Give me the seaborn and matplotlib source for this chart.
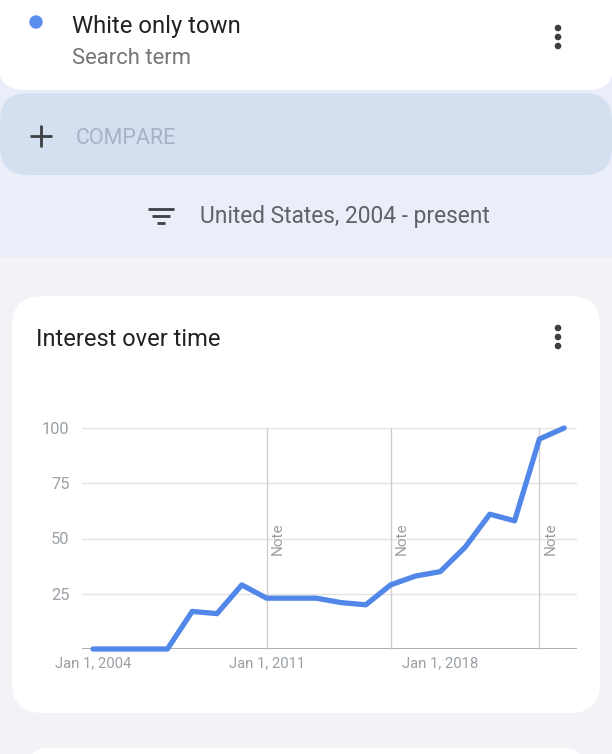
import matplotlib
matplotlib.use("Agg")
import matplotlib.pyplot as plt
from matplotlib.patches import FancyBboxPatch, Rectangle, Circle
import seaborn as sns
import pandas as pd

# ---- data ----
years = [2004, 2005, 2006, 2007, 2008, 2009, 2010, 2011, 2012, 2013,
         2014, 2015, 2016, 2017, 2018, 2019, 2020, 2021, 2022, 2023]
interest = [0, 0, 0, 0, 17, 16, 29, 23, 23, 23,
            21, 20, 29, 33, 35, 46, 61, 58, 95, 100]
note_years = [2011, 2016, 2022]
x_tick_years = [2004, 2011, 2018]
x_tick_labels = ["Jan 1, 2004", "Jan 1, 2011", "Jan 1, 2018"]
y_ticks = [25, 50, 75, 100]
search_term = "White only town"
subtitle = "Search term"
region_text = "United States, 2004 - present"
card_title = "Interest over time"

df = pd.DataFrame({"year": years, "interest": interest})

sns.set_theme(style="white")
plt.rcParams["font.family"] = ["Roboto", "DejaVu Sans"]

W, H = 612, 754
fig = plt.figure(figsize=(W / 100, H / 100), dpi=100)

# ---- background UI layer (pixel coordinates) ----
bg = fig.add_axes([0, 0, 1, 1])
bg.set_xlim(0, W)
bg.set_ylim(H, 0)
bg.axis("off")

bg.add_patch(Rectangle((0, 0), W, 258, color="#E9EEF8", zorder=0))
bg.add_patch(Rectangle((0, 258), W, H - 258, color="#F2F2F7", zorder=0))

# top card
bg.add_patch(FancyBboxPatch((-2, -40), W + 4, 130, boxstyle="round,pad=0,rounding_size=26",
                            fc="white", ec="none", zorder=1))
# compare pill
bg.add_patch(FancyBboxPatch((0, 93), W, 82, boxstyle="round,pad=0,rounding_size=28",
                            fc="#D4DFF0", ec="none", zorder=1))
# chart card
bg.add_patch(FancyBboxPatch((12, 296), 588, 417, boxstyle="round,pad=0,rounding_size=30",
                            fc="white", ec="none", zorder=1))
# next card peeking
bg.add_patch(FancyBboxPatch((28, 748), 556, 60, boxstyle="round,pad=0,rounding_size=20",
                            fc="white", ec="none", zorder=1))

# term header
bg.add_patch(Circle((36, 22), 6, color="#5B8DEF", zorder=2))
bg.text(72, 27, search_term, fontsize=17.2, color="#202124", va="center", ha="left", zorder=3)
bg.text(72, 58, subtitle, fontsize=15.8, color="#757575", va="center", ha="left", zorder=3)
for cy in (28, 37, 46):
    bg.add_patch(Circle((558, cy), 2.6, color="#3C4043", zorder=3))

# compare
bg.plot([30, 52], [136, 136], color="#3C4043", lw=2.0, zorder=3, solid_capstyle="butt")
bg.plot([41, 41], [125, 147], color="#3C4043", lw=2.0, zorder=3, solid_capstyle="butt")
bg.text(76, 138, "COMPARE", fontsize=15.5, color="#A7B2C4", va="center", ha="left", zorder=3)

# filter row
for (x0, x1, yy) in [(148, 174, 209), (152, 170, 216), (157, 165, 223)]:
    bg.plot([x0, x1], [yy, yy], color="#3C4043", lw=2.0, zorder=3, solid_capstyle="butt")
bg.text(200, 217, region_text, fontsize=16.4, color="#5F6368", va="center", ha="left", zorder=3)

# chart card header
bg.text(36, 339, card_title, fontsize=17.0, color="#202124", va="center", ha="left", zorder=3)
for cy in (328, 337, 346):
    bg.add_patch(Circle((558, cy), 2.6, color="#3C4043", zorder=3))

# ---- chart ----
px_per_year = 24.8
x_left = 2004 - (93 - 82) / px_per_year
x_right = 2004 + (577 - 93) / px_per_year
ax = fig.add_axes([82 / W, (H - 649) / H, (577 - 82) / W, (649 - 428) / H])
ax.patch.set_alpha(0)
ax.set_xlim(x_left, x_right)
ax.set_ylim(0, 100)

for yv in y_ticks:
    ax.axhline(yv, color="#E3E3E3", lw=1.0, zorder=1)
ax.axhline(0, color="#A0A0A0", lw=1.2, zorder=1)
for ny in note_years:
    ax.plot([ny, ny], [0, 100], color="#CFCFCF", lw=1.0, zorder=1, clip_on=False)
    ax.text(ny + 11 / px_per_year, 50, "Note", rotation=90, fontsize=11,
            color="#9E9E9E", va="center", ha="center", zorder=2)

sns.lineplot(data=df, x="year", y="interest", ax=ax, color="#5187E8",
             linewidth=3.8, zorder=3, clip_on=False)

for s in ax.spines.values():
    s.set_visible(False)
ax.set_xlabel("")
ax.set_ylabel("")
ax.set_xticks(x_tick_years)
ax.set_xticklabels(x_tick_labels, fontsize=10.7, color="#9AA0A6")
ax.set_yticks(y_ticks)
ax.set_yticklabels([str(v) for v in y_ticks], fontsize=11.8, color="#9AA0A6")
ax.tick_params(axis="both", length=0)
ax.tick_params(axis="x", pad=5)
ax.tick_params(axis="y", pad=9)
ax.grid(False)

fig.savefig("out.png", dpi=100)
